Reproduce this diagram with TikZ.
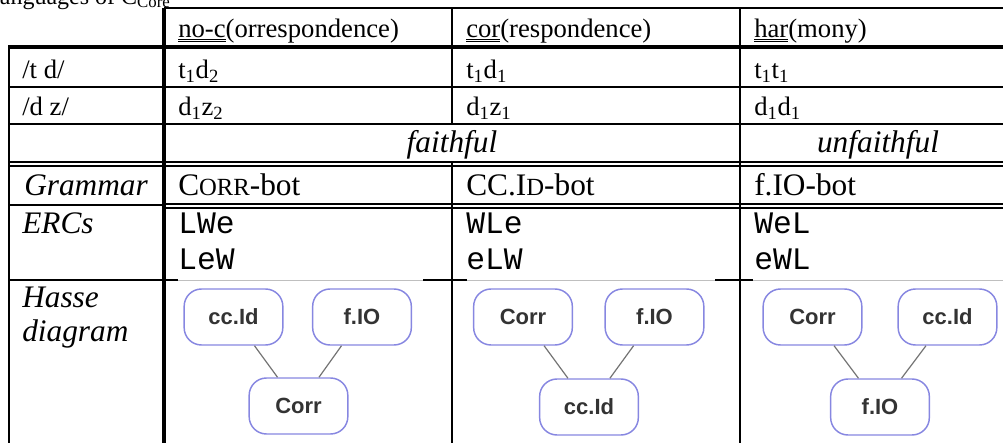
\documentclass[tikz,border=0pt]{standalone}
\usepackage{fontspec}
\setmainfont{Liberation Serif}
\setmonofont{Liberation Mono}
\newfontfamily\hassefont{Liberation Sans}
\definecolor{hasseblue}{RGB}{135,135,225}
\newcommand{\fakesc}[1]{{\fontsize{18.5}{20}\selectfont #1}}
\newcommand{\dul}[1]{\vtop{\hbox{#1}\kern1.4pt\hrule height0.6pt\kern1.1pt\hrule height0.6pt}}
\begin{document}
\begin{tikzpicture}[x=0.75pt,y=-0.75pt,
  thinrule/.style={line width=1.5pt},
  thickrule/.style={line width=3pt},
  borderrule/.style={line width=2.2pt},
  hdr/.style={anchor=base west, inner sep=0pt, font=\fontsize{20}{24}\selectfont},
  cell/.style={anchor=base west, inner sep=0pt, font=\fontsize{23.5}{28}\selectfont},
  monocell/.style={anchor=base west, inner sep=0pt, font=\ttfamily\fontsize{23.5}{28}\selectfont},
  hbox/.style={draw=hasseblue, line width=1.1pt, rounded corners=13pt, minimum width=74pt,
    minimum height=42pt, inner sep=0pt, fill=white, text=black!80,
    font=\hassefont\bfseries\fontsize{16.5}{18}\selectfont},
  hline/.style={draw=black!55, line width=0.9pt}]
\useasboundingbox (0,0) rectangle (1003,443);
\clip (0,0) rectangle (1003,443);
% title (cut off at the top)
\node[anchor=base west, inner sep=0pt, font=\fontsize{18}{21}\selectfont] (title) at (-15,4.5) {Languages of C\textsubscript{Core}};
% horizontal rules
\draw[thinrule] (164,8) -- (1003,8);
\draw[thickrule] (8,47) -- (1003,47);
\draw[thinrule] (8,87) -- (1003,87);
\draw[thinrule] (8,124) -- (1003,124);
\draw[thinrule] (8,161.5) -- (1003,161.5);
\draw[thinrule] (8,165.5) -- (1003,165.5);
\draw[thinrule] (8,205) -- (164,205);
\draw[thinrule] (164,203.5) -- (1003,203.5);
\draw[thinrule] (164,207.5) -- (1003,207.5);
\draw[thinrule] (8,280) -- (178,280);
\draw[thinrule] (423,280) -- (467,280);
\draw[thinrule] (715,280) -- (753,280);
\draw[line width=0.6pt, black!25] (178,280) -- (423,280);
\draw[line width=0.6pt, black!25] (467,280) -- (715,280);
\draw[line width=0.6pt, black!25] (753,280) -- (1003,280);
% vertical rules
\draw[borderrule] (9,47) -- (9,443);
\draw[thickrule] (164,8) -- (164,443);
\draw[thinrule] (452,8) -- (452,124);
\draw[thinrule] (452,161.5) -- (452,443);
\draw[thinrule] (740,8) -- (740,443);
% header
\node[hdr] (h1) at (178,37) {\dul{no-c}(orrespondence)};
\node[hdr] (h2) at (466,37) {\dul{cor}(respondence)};
\node[hdr] (h3) at (754,37) {\dul{har}(mony)};
% /t d/
\node[hdr] (r1) at (22,78) {/t d/};
\node[hdr] (r1a) at (178,78) {t\textsubscript{1}d\textsubscript{2}};
\node[hdr] (r1b) at (466,78) {t\textsubscript{1}d\textsubscript{1}};
\node[hdr] (r1c) at (754,78) {t\textsubscript{1}t\textsubscript{1}};
% /d z/
\node[hdr] (r2) at (22,115) {/d z/};
\node[hdr] (r2a) at (178,115) {d\textsubscript{1}z\textsubscript{2}};
\node[hdr] (r2b) at (466,115) {d\textsubscript{1}z\textsubscript{1}};
\node[hdr] (r2c) at (754,115) {d\textsubscript{1}d\textsubscript{1}};
% faithful
\node[cell, anchor=base] (faith) at (452,152) {\itshape faithful};
\node[cell, anchor=base] (unfaith) at (878,152) {\itshape unfaithful};
% grammar
\node[cell] (gram) at (24,195) {\itshape Grammar};
\node[cell] (g1) at (178,195) {C\fakesc{ORR}-bot};
\node[cell] (g2) at (466,195) {CC.I\fakesc{D}-bot};
\node[cell] (g3) at (754,195) {f.IO-bot};
% ERCs
\node[cell] (ercs) at (22,233) {\itshape ERCs};
\node[monocell] (e1a) at (178,233) {LWe};
\node[monocell] (e1b) at (178,269) {LeW};
\node[monocell] (e2a) at (466,233) {WLe};
\node[monocell] (e2b) at (466,269) {eLW};
\node[monocell] (e3a) at (754,233) {WeL};
\node[monocell] (e3b) at (754,269) {eWL};
% Hasse label
\node[cell] (hasse) at (22,307) {\itshape Hasse};
\node[cell] (diag) at (22,341) {\itshape diagram};
% Hasse diagram 1
\node[hbox] (ccA) at (233.5,317) {cc.Id};
\node[hbox] (fA) at (362,317) {f.IO};
\node[hbox] (corrA) at (298.5,406) {Corr};
\draw[hline] (ccA) -- (corrA);
\draw[hline] (fA) -- (corrA);
% Hasse diagram 2
\node[hbox] (corrB) at (523,317) {Corr};
\node[hbox] (fB) at (654.5,317) {f.IO};
\node[hbox] (ccB) at (589,407) {cc.Id};
\draw[hline] (corrB) -- (ccB);
\draw[hline] (fB) -- (ccB);
% Hasse diagram 3
\node[hbox] (corrC) at (812.5,317) {Corr};
\node[hbox] (ccC) at (947.5,317) {cc.Id};
\node[hbox] (fC) at (880,407) {f.IO};
\draw[hline] (corrC) -- (fC);
\draw[hline] (ccC) -- (fC);
\end{tikzpicture}
\end{document}
